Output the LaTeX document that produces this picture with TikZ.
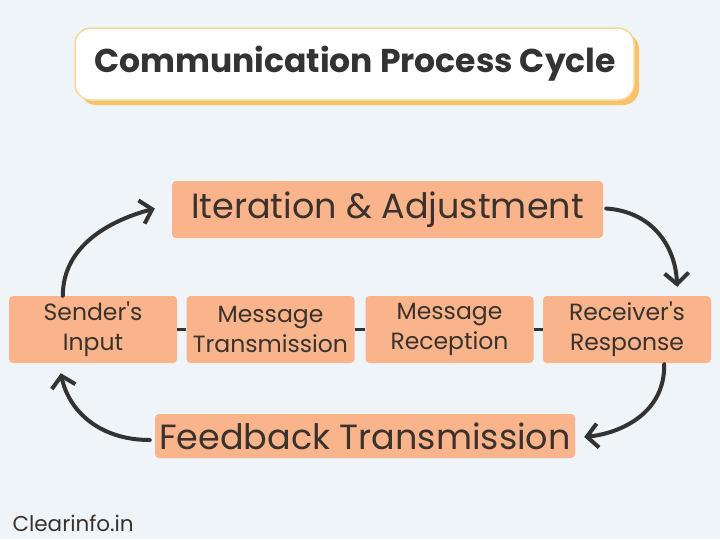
\documentclass[tikz,border=0pt]{standalone}
\usepackage{fontspec}
\setmainfont{Poppins}
\font\popq="Poppins" at 23.5pt
\newcommand\sq{{\popq\char39}}
\usetikzlibrary{arrows.meta,calc}
\definecolor{bg}{HTML}{EEF4F7}
\definecolor{peach}{HTML}{F9B48B}
\definecolor{txt}{HTML}{3A322D}
\definecolor{arr}{HTML}{333333}
\definecolor{tborder}{HTML}{F8D899}
\definecolor{tshadow}{HTML}{F8C26B}
\begin{document}
\begin{tikzpicture}[x=1pt,y=-1pt,
  rowbox/.style={fill=peach,rounded corners=4pt,inner sep=0pt,minimum width=168pt,minimum height=67pt,
    text=txt,align=center,font=\fontsize{23.5}{30}\selectfont},
  bigbox/.style={fill=peach,rounded corners=4pt,inner sep=0pt,text=txt,font=\fontsize{35}{40}\selectfont},
  cyc/.style={draw=arr,line width=4pt,line cap=round,-{Straight Barb[length=11pt,width=24pt,line width=4pt]}},
  link/.style={draw=arr,line width=2.5pt}]
\useasboundingbox (0,0) rectangle (720,539);
\fill[bg] (0,0) rectangle (720,539);
% title
\fill[tshadow,rounded corners=16pt] (80,33) rectangle (639,105);
\draw[tborder,fill=white,line width=1.5pt,rounded corners=16pt] (75,28) rectangle (634,100);
\node[text=arr,font=\fontsize{33}{38}\selectfont\bfseries] (title) at (355,64) {Communication Process Cycle};
% boxes
\node[bigbox,minimum width=431pt,minimum height=57pt] (iter) at (387.5,209.5) {Iteration \& Adjustment};
\node[rowbox] (send) at (93,329.5) {Sender\sq s\\Input};
\node[rowbox] (mtx) at (270.5,329.5) {Message\\Transmission};
\node[rowbox] (mrc) at (449.5,329.5) {Message\\Reception};
\node[rowbox] (resp) at (627,329.5) {Receiver\sq s\\Response};
\node[bigbox,minimum width=420pt,minimum height=44pt] (feed) at (365,436) {Feedback Transmission};
\node[anchor=base west,text=txt,font=\fontsize{21.5}{26}\selectfont] (logo) at (9,531) {Clearinfo.in};
% links
\draw[link] (send.east) -- (mtx.west);
\draw[link] (mtx.east) -- (mrc.west);
\draw[link] (mrc.east) -- (resp.west);
% cycle arrows
\draw[cyc] ([xshift=54pt]send.north west) .. controls +(0,-50) and +(-45,12) .. ([xshift=-17pt,yshift=1pt]iter.west);
\draw[cyc] ([xshift=3pt,yshift=1pt]iter.east) .. controls +(45,3) and +(-2,-42) .. ([xshift=-34pt,yshift=9pt]resp.north east);
\draw[cyc] ([xshift=-47pt,yshift=-1pt]resp.south east) .. controls +(1,48) and +(38,-4) .. ([xshift=9pt,yshift=-1pt]feed.east);
\draw[cyc] ([xshift=-5pt,yshift=-4pt]feed.west) .. controls +(-50,0) and +(8,38) .. ([xshift=52pt,yshift=-10pt]send.south west);
\end{tikzpicture}
\end{document}
